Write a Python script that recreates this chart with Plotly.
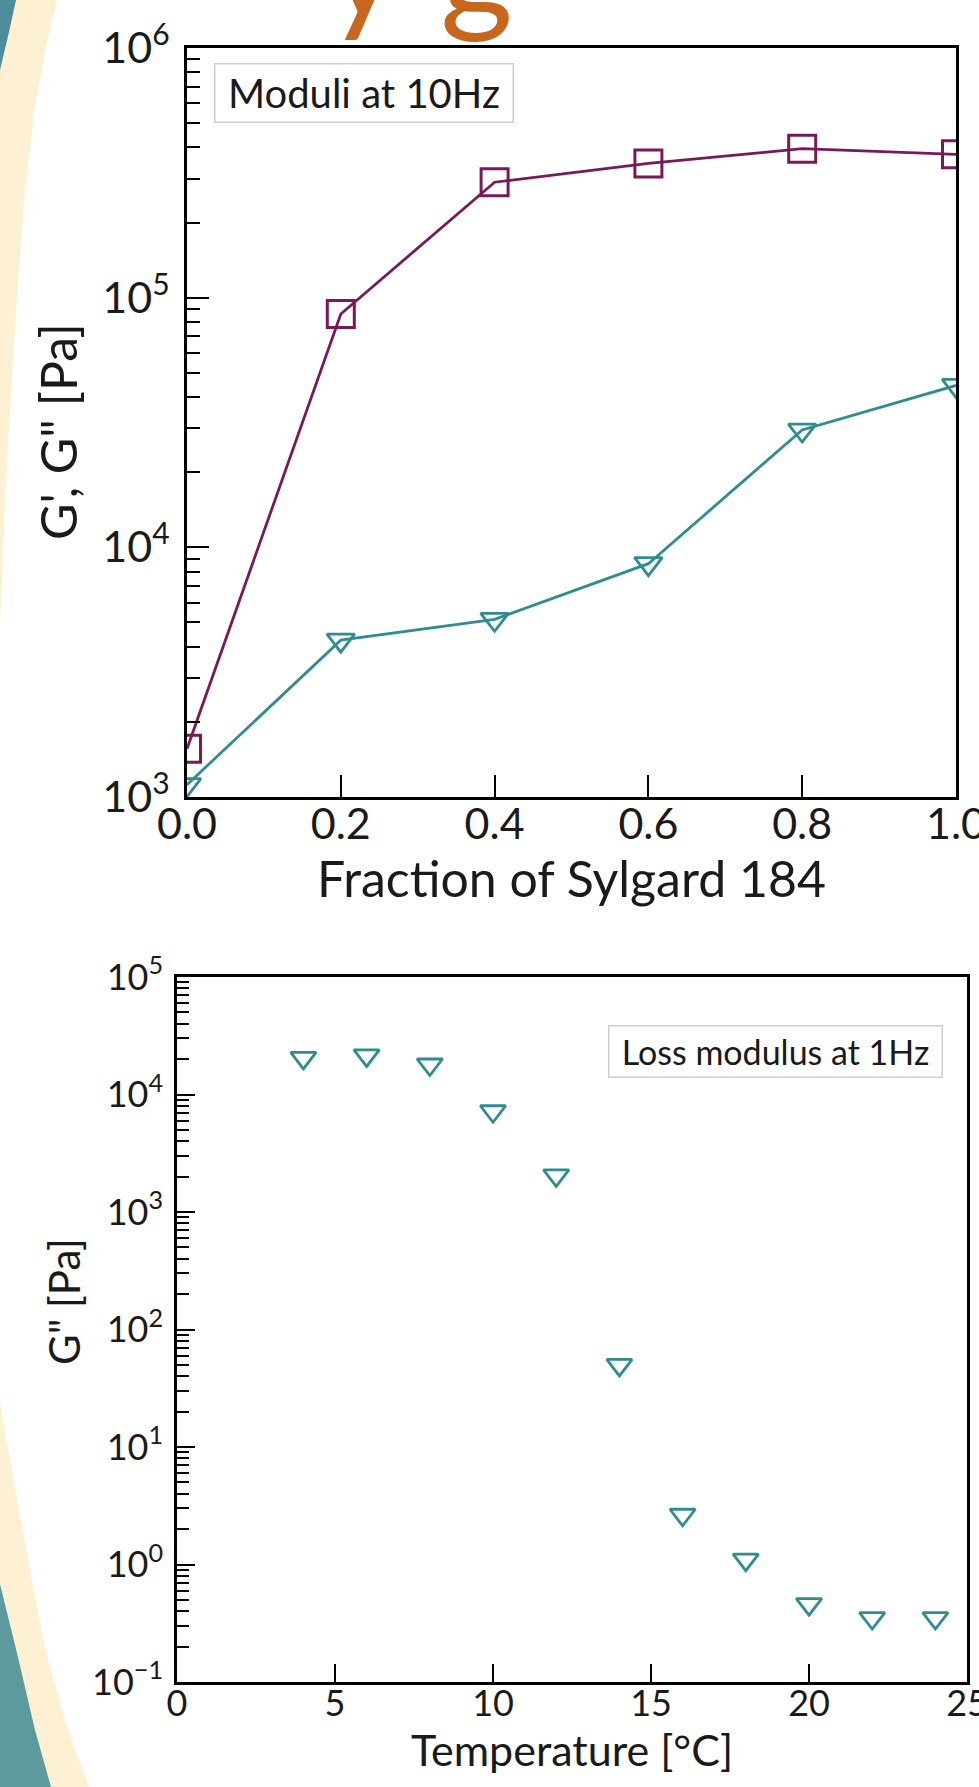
import plotly.graph_objects as go

W, H = 979, 1787

# ---------------- data ----------------
fraction = [0.0, 0.2, 0.4, 0.6, 0.8, 1.0]
g_storage_10hz = [1.56e3, 8.6e4, 2.9e5, 3.45e5, 3.95e5, 3.75e5]
g_loss_10hz = [1.12e3, 4.25e3, 5.15e3, 8.6e3, 2.95e4, 4.45e4]

temperature = [4, 6, 8, 10, 12, 14, 16, 18, 20, 22, 24]
g_loss_1hz = [2.05e4, 2.15e4, 1.8e4, 7.2e3, 2.05e3, 50, 2.65, 1.1, 0.46, 0.35, 0.35]

top_x_ticks = [0.0, 0.2, 0.4, 0.6, 0.8, 1.0]
top_x_labels = ["0.0", "0.2", "0.4", "0.6", "0.8", "1.0"]
top_y_ticks = [1e3, 1e4, 1e5, 1e6]
top_y_labels = ["10<sup>3</sup>", "10<sup>4</sup>", "10<sup>5</sup>", "10<sup>6</sup>"]

bot_x_ticks = [0, 5, 10, 15, 20, 25]
bot_x_labels = ["0", "5", "10", "15", "20", "25"]
bot_y_ticks = [1e-1, 1e0, 1e1, 1e2, 1e3, 1e4, 1e5]
bot_y_labels = ["10<sup>\u22121</sup>", "10<sup>0</sup>", "10<sup>1</sup>", "10<sup>2</sup>",
                "10<sup>3</sup>", "10<sup>4</sup>", "10<sup>5</sup>"]

PURPLE = "#78195a"
TEAL = "#2f8d92"
FONT = "Lato"


def minor_vals(decades):
    out = []
    for d in decades[:-1]:
        for k in range(2, 10):
            out.append(d * k)
    return out


def fx(x):
    return x / W


def fy(y):
    return 1 - y / H


# plot area pixel boxes
TOP = dict(l=187, r=956, t=48, b=797)
BOT = dict(l=177, r=967, t=977, b=1682)

fig = go.Figure()

fig.add_trace(go.Scatter(
    x=fraction, y=g_storage_10hz, mode="lines+markers", xaxis="x", yaxis="y",
    line=dict(color=PURPLE, width=2.8),
    marker=dict(symbol="square-open", size=27, color=PURPLE, line=dict(color=PURPLE, width=3)),
    showlegend=False))
fig.add_trace(go.Scatter(
    x=fraction, y=g_loss_10hz, mode="lines+markers", xaxis="x", yaxis="y",
    line=dict(color=TEAL, width=2.8),
    marker=dict(symbol="triangle-down-open", size=24, color=TEAL, line=dict(color=TEAL, width=2.8)),
    showlegend=False))
fig.add_trace(go.Scatter(
    x=temperature, y=g_loss_1hz, mode="markers", xaxis="x2", yaxis="y2",
    marker=dict(symbol="triangle-down-open", size=22, color=TEAL, line=dict(color=TEAL, width=2.8)),
    showlegend=False))

axis_common = dict(showline=True, linecolor="black", linewidth=2.5, mirror=True,
                   showgrid=False, zeroline=False, ticks="inside", tickcolor="black",
                   tickwidth=2, tickmode="array", automargin=False, ticklabeloverflow="allow")

fig.update_layout(
    template="none",
    width=W, height=H,
    margin=dict(l=0, r=0, t=0, b=0, pad=0, autoexpand=False),
    paper_bgcolor="white", plot_bgcolor="white",
    font=dict(family=FONT, color="#1a1a1a"),
    xaxis=dict(axis_common, domain=[fx(TOP["l"]), fx(TOP["r"])], range=[0, 1],
               tickvals=top_x_ticks, ticktext=top_x_labels, ticklen=22,
               tickfont=dict(size=43), anchor="y", ticklabelstandoff=-12,
               title=dict(text="Fraction of Sylgard 184", font=dict(size=50), standoff=0)),
    yaxis=dict(axis_common, domain=[fy(TOP["b"]), fy(TOP["t"])], type="log", range=[3, 6],
               tickvals=top_y_ticks, ticktext=top_y_labels, ticklen=22,
               tickfont=dict(size=43), anchor="x", ticklabelstandoff=6,
               minor=dict(tickmode="array", tickvals=minor_vals(top_y_ticks), ticks="inside",
                          ticklen=13, tickwidth=2, tickcolor="black")),
    xaxis2=dict(axis_common, domain=[fx(BOT["l"]), fx(BOT["r"])], range=[0, 25],
                tickvals=bot_x_ticks, ticktext=bot_x_labels, ticklen=18,
                tickfont=dict(size=36), anchor="y2", ticklabelstandoff=-12,
                title=dict(text="Temperature [°C]", font=dict(size=43), standoff=9)),
    yaxis2=dict(axis_common, domain=[fy(BOT["b"]), fy(BOT["t"])], type="log", range=[-1, 5],
                tickvals=bot_y_ticks, ticktext=bot_y_labels, ticklen=18,
                tickfont=dict(size=36), anchor="x2", ticklabelstandoff=4,
                minor=dict(tickmode="array", tickvals=minor_vals(bot_y_ticks), ticks="inside",
                           ticklen=12, tickwidth=2, tickcolor="black")),
)


# decorative slide background (left edge arcs)
def path_from(points):
    s = "M " + " L ".join(f"{fx(x):.5f},{fy(y):.5f}" for x, y in points) + " Z"
    return s


cream = "#fdf0d3"
teal_bg = "#4f8c9c"
teal_bg2 = "#5c9a9d"
shapes = [
    dict(type="path", xref="paper", yref="paper", layer="below", line=dict(width=0), fillcolor=cream,
         path=path_from([(0, 0), (57, 0), (45, 50), (34, 114), (24, 200), (14, 342), (6, 480), (0, 627)])),
    dict(type="path", xref="paper", yref="paper", layer="below", line=dict(width=0), fillcolor=teal_bg,
         path=path_from([(0, 0), (16, 0), (9, 32), (0, 70)])),
    dict(type="path", xref="paper", yref="paper", layer="below", line=dict(width=0), fillcolor=cream,
         path=path_from([(0, 1402), (14, 1482), (30, 1570), (46, 1653), (68, 1730), (89, 1787), (0, 1787)])),
    dict(type="path", xref="paper", yref="paper", layer="below", line=dict(width=0), fillcolor=teal_bg2,
         path=path_from([(0, 1584), (17, 1653), (35, 1730), (51, 1787), (0, 1787)])),
]
fig.update_layout(shapes=shapes)

annotations = [
    # y-axis titles
    dict(text="G', G\" [Pa]", xref="paper", yref="paper", x=fx(58), y=fy(432),
         xanchor="center", yanchor="middle", textangle=-90, showarrow=False,
         font=dict(size=50, color="#1a1a1a")),
    dict(text="G\" [Pa]", xref="paper", yref="paper", x=fx(64), y=fy(1302),
         xanchor="center", yanchor="middle", textangle=-90, showarrow=False,
         font=dict(size=42, color="#1a1a1a")),
    # boxed labels inside the plots
    dict(text="Moduli at 10Hz", xref="paper", yref="paper", x=fx(363.5), y=fy(92.5),
         xanchor="center", yanchor="middle", showarrow=False, font=dict(size=40, color="#1a1a1a"),
         bgcolor="white", bordercolor="#cfcfcf", borderwidth=1.5, borderpad=0, width=297, height=57),
    dict(text="Loss modulus at 1Hz", xref="paper", yref="paper", x=fx(775), y=fy(1051),
         xanchor="center", yanchor="middle", showarrow=False, font=dict(size=34, color="#1a1a1a"),
         bgcolor="white", bordercolor="#cfcfcf", borderwidth=1.5, borderpad=0, width=332, height=50),
    # clipped slide title above
    dict(text="y\u00a0\u200ag", xref="paper", yref="paper", x=fx(420), y=fy(48),
         xanchor="center", yanchor="bottom", showarrow=False,
         font=dict(size=140, color="#c8661e", family=FONT)),
]
fig.update_layout(annotations=annotations)

fig.write_html("out.html", config={"displayModeBar": False},
               post_script="document.body.style.margin='0';document.body.style.overflow='hidden';")
